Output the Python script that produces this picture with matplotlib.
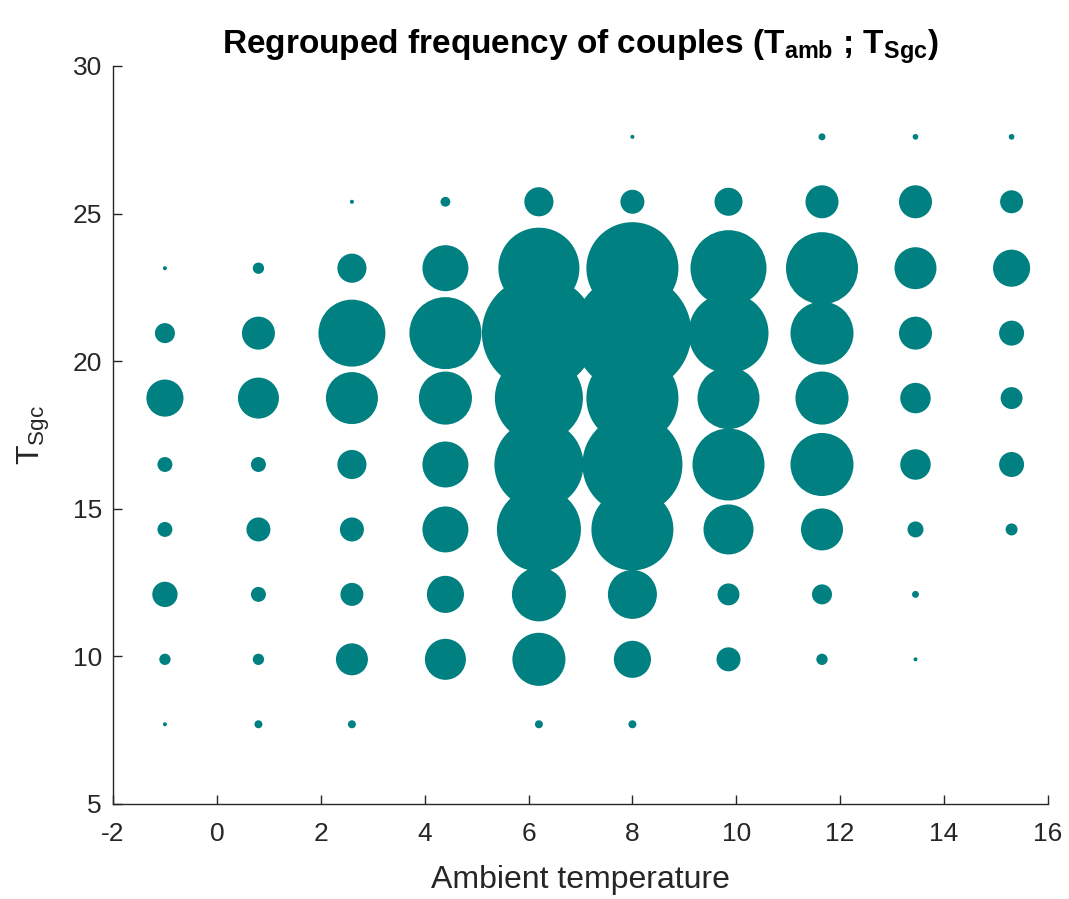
import numpy as np
import matplotlib
matplotlib.use('Agg')
import matplotlib.pyplot as plt

plt.rcParams['font.family'] = ['Liberation Sans', 'DejaVu Sans']
plt.rcParams['mathtext.fontset'] = 'custom'
plt.rcParams['mathtext.rm'] = 'Liberation Sans'
plt.rcParams['mathtext.it'] = 'Liberation Sans'
plt.rcParams['mathtext.bf'] = 'Liberation Sans:bold'
plt.rcParams['axes.unicode_minus'] = False

# class centres of ambient temperature and Sgc temperature
t_amb = [-1.0, 0.8, 2.6, 4.4, 6.2, 8.0, 9.85, 11.65, 13.45, 15.3]
t_sgc = [27.6, 25.4, 23.15, 20.95, 18.75, 16.5, 14.3, 12.1, 9.9, 7.7]

# number of couples in each (T_sgc, T_amb) class, one row per T_sgc level
counts = [
    [0, 0, 0, 0, 0, 1, 0, 3, 2, 2],
    [0, 0, 1, 6, 53, 36, 49, 68, 68, 33],
    [1, 8, 53, 132, 410, 529, 361, 324, 110, 86],
    [25, 68, 280, 324, 812, 870, 400, 248, 68, 39],
    [86, 105, 169, 176, 484, 529, 240, 176, 58, 30],
    [14, 14, 53, 132, 495, 625, 324, 248, 58, 39],
    [14, 36, 36, 132, 441, 420, 156, 110, 16, 9],
    [40, 14, 33, 86, 182, 150, 30, 25, 3, 0],
    [8, 8, 64, 105, 176, 86, 36, 8, 1, 0],
    [1, 4, 4, 0, 4, 4, 0, 0, 0, 0],
]

xx, yy = np.meshgrid(t_amb, t_sgc)
cc = np.array(counts, dtype=float)
mask = cc > 0

fig = plt.figure(figsize=(10.69, 8.99), dpi=100)
ax = fig.add_axes([0.1057, 0.1057, 0.8746, 0.8209])

ax.scatter(xx[mask], yy[mask], s=8.3 * cc[mask], c='#008080',
           linewidths=0, marker='o')

ax.set_xlim(-2, 16)
ax.set_ylim(5, 30)
ax.set_xticks(np.arange(-2, 17, 2))
ax.set_yticks(np.arange(5, 31, 5))

grey = '#262626'
for side in ['top', 'right']:
    ax.spines[side].set_visible(False)
for side in ['left', 'bottom']:
    ax.spines[side].set_color(grey)
    ax.spines[side].set_linewidth(1.0)
ax.tick_params(direction='in', length=6.5, width=1.0, colors=grey,
               labelsize=19)
ax.tick_params(axis='x', pad=13)
ax.tick_params(axis='y', pad=8)

ax.set_xlabel('Ambient temperature', fontsize=23, color=grey, labelpad=14)
ax.set_ylabel(r'$\mathrm{T_{Sgc}}$', fontsize=23, color=grey, labelpad=15)
ax.set_title(r'Regrouped frequency of couples ($\mathbf{T_{amb}}$ ; $\mathbf{T_{Sgc}}$)',
             fontsize=24, fontweight='bold', pad=8)

fig.savefig('out.png', dpi=100)
